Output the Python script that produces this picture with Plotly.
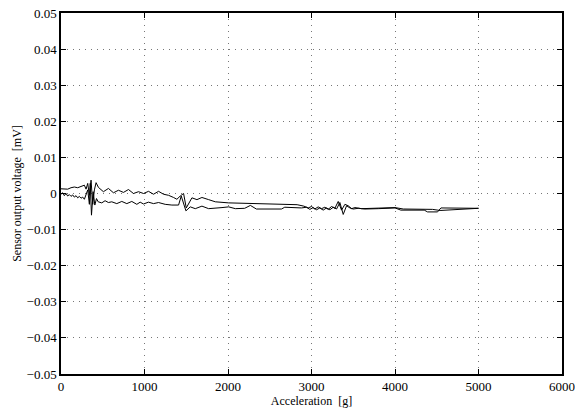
import plotly.graph_objects as go

# Upper branch (x in g, value in mV)
upper_x = [0, 40, 80, 120, 160, 200, 240, 280, 300, 320, 340, 360, 380, 400, 420,
           448, 508, 568, 628, 688, 748, 808, 868, 928, 988, 1048, 1108, 1168, 1228,
           1288, 1348, 1388, 1428, 1468, 1500, 1568, 1628, 1688, 1768, 1848, 2008,
           2268, 2828, 2908, 2960, 3000, 3040, 3080, 3120, 3160, 3200, 3240, 3280,
           3320, 3360, 3400, 3440, 3480, 3520, 3600, 3700, 3800, 3900, 4000, 4100,
           4300, 4450, 4540, 5000]
upper_v = [0.0013, 0.0013, 0.0012, 0.0016, 0.0018, 0.0016, 0.0020, 0.0023, 0.0012,
           0.0028, -0.0005, 0.0037, -0.0030, 0.0010, 0.0030,
           0.0017, 0.0005, 0.0014, 0.0002, 0.0009, 0.0003, 0.0011, 0.0000, 0.0005,
           0.0000, 0.0006, -0.0002, 0.0006, -0.0002, -0.0005, -0.0011, -0.0016,
           -0.0007, 0.0000, -0.0040, -0.0012, -0.0017, -0.0011, -0.0017, -0.0023,
           -0.0026, -0.0027, -0.0031, -0.0035, -0.0040, -0.0036, -0.0043, -0.0037,
           -0.0042, -0.0038, -0.0044, -0.0036, -0.0041, -0.0022, -0.0046, -0.0030,
           -0.0034, -0.0042, -0.0039, -0.0042, -0.0041, -0.0041, -0.0040, -0.0039,
           -0.0043, -0.0043, -0.0044, -0.0047, -0.0041]

# Lower branch
lower_x = [0, 20, 40, 60, 80, 100, 120, 140, 160, 180, 200, 220, 240, 260, 280, 300,
           320, 340, 350, 365, 385, 405, 425, 445, 488, 528, 568, 608, 668, 728, 788,
           848, 908, 948, 988, 1048, 1108, 1168, 1248, 1328, 1408, 1440, 1496, 1548,
           1608, 1688, 1768, 1928, 2008, 2088, 2200, 2268, 2340, 2640, 2680, 2880,
           2940, 2980, 3020, 3060, 3100, 3140, 3180, 3220, 3260, 3300, 3340, 3380,
           3420, 3460, 3500, 3560, 3640, 3800, 4000, 4070, 4350, 4390, 4510, 4550,
           5000]
lower_v = [-0.0002, 0.0002, -0.0006, 0.0000, -0.0007, -0.0003, -0.0008, -0.0004,
           -0.0010, -0.0006, -0.0012, -0.0008, -0.0013, -0.0010, -0.0016, -0.0005,
           0.0010, -0.0030, 0.0028, -0.0060, 0.0005, -0.0032, -0.0014, -0.0023,
           -0.0026, -0.0020, -0.0025, -0.0023, -0.0028, -0.0022, -0.0028, -0.0022,
           -0.0030, -0.0024, -0.0029, -0.0024, -0.0028, -0.0025, -0.0030, -0.0032,
           -0.0032, -0.0007, -0.0048, -0.0037, -0.0042, -0.0035, -0.0042, -0.0039,
           -0.0037, -0.0042, -0.0041, -0.0033, -0.0043, -0.0043, -0.0038, -0.0040,
           -0.0038, -0.0044, -0.0039, -0.0045, -0.0040, -0.0046, -0.0040, -0.0045,
           -0.0038, -0.0043, -0.0025, -0.0058, -0.0034, -0.0040, -0.0043, -0.0041,
           -0.0043, -0.0042, -0.0040, -0.0046, -0.0046, -0.0051, -0.0051, -0.0040,
           -0.0041]

x_ticks = [0, 1000, 2000, 3000, 4000, 5000, 6000]
y_ticks = [0.05, 0.04, 0.03, 0.02, 0.01, 0, -0.01, -0.02, -0.03, -0.04, -0.05]
y_tick_text = ["0.05", "0.04", "0.03", "0.02", "0.01", "0",
               "\u22120.01", "\u22120.02", "\u22120.03", "\u22120.04", "\u22120.05"]

fig = go.Figure()
for xs, vs in [(upper_x, upper_v), (lower_x, lower_v)]:
    fig.add_trace(go.Scatter(x=xs, y=vs, mode="lines",
                             line=dict(color="black", width=1),
                             showlegend=False, hoverinfo="skip"))

font = dict(family="Liberation Serif", size=12, color="black")
tick_font = dict(family="Liberation Serif", size=13, color="black")
axis_common = dict(
    showline=True, linecolor="black", linewidth=1.5, mirror="ticks",
    ticks="inside", ticklen=5, tickcolor="black", tickwidth=1,
    showgrid=True, gridcolor="#777777", griddash="1px,5px", gridwidth=1,
    zeroline=False, tickfont=tick_font, automargin=False,
)
fig.update_xaxes(range=[0, 6000], tickvals=x_ticks,
                 ticktext=[str(t) for t in x_ticks],
                 title=dict(text="Acceleration  [g]", font=font, standoff=2),
                 **axis_common)
fig.update_yaxes(range=[-0.05, 0.05], tickvals=y_ticks, ticktext=y_tick_text,
                 title=dict(text="Sensor output voltage  [mV]", font=font, standoff=2),
                 **axis_common)
fig.update_layout(
    width=575, height=410,
    margin=dict(l=61, r=13, t=13, b=36),
    paper_bgcolor="white", plot_bgcolor="white",
    font=font,
)
fig.write_html("out.html", config={"displayModeBar": False},
               post_script="document.body.style.margin='0';document.body.style.overflow='hidden';")
